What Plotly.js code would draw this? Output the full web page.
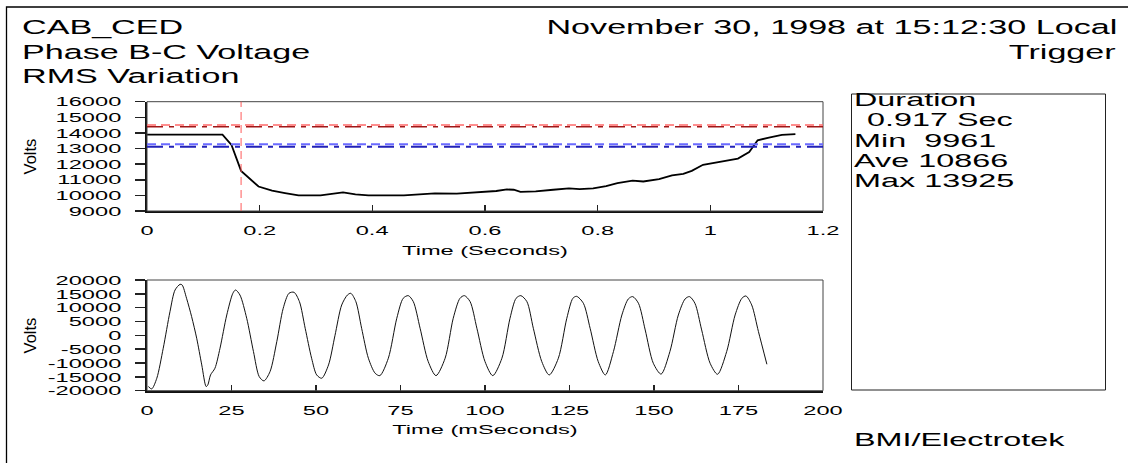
<!DOCTYPE html>
<html>
<head>
<meta charset="utf-8">
<script src="https://cdn.plot.ly/plotly-3.0.1.min.js"></script>
<style>
  html, body { margin: 0; padding: 0; background: #fff; }
  #chart { width: 1128px; height: 463px; }
</style>
</head>
<body>
<div id="chart"></div>
<script>
// ---------------- data ----------------
const rmsTime = [0, 0.134, 0.150, 0.167, 0.198, 0.222, 0.245, 0.269, 0.308, 0.331, 0.348, 0.370, 0.393,
  0.456, 0.479, 0.511, 0.550, 0.589, 0.620, 0.639, 0.651, 0.663, 0.690, 0.721, 0.749, 0.768, 0.792,
  0.815, 0.835, 0.862, 0.881, 0.909, 0.932, 0.952, 0.967, 0.987, 1.010, 1.034, 1.049, 1.069, 1.084,
  1.104, 1.127, 1.151];
const rmsVolts = [13890, 13890, 13230, 11570, 10570, 10300, 10150, 10000, 10000, 10100, 10190, 10060, 10000,
  10000, 10060, 10130, 10110, 10190, 10280, 10380, 10360, 10230, 10260, 10360, 10450, 10400, 10450,
  10600, 10790, 10940, 10890, 11040, 11280, 11380, 11570, 11960, 12110, 12260, 12360, 12770, 13530,
  13700, 13870, 13925];

const waveTime = [0.4, 1.4, 2.9, 4.8, 6.8, 8.3, 9.8, 10.4, 11.7, 13.2, 14.7, 16.2, 17.5, 18.0, 18.8, 20.1,
  21.6, 23.6, 25.4, 26.2, 27.5, 29.5, 31.5, 33.2, 34.6, 36.4, 38.4, 40.3, 42.0, 43.5, 45.1, 46.8, 48.7,
  50.2, 51.7, 53.7, 55.6, 57.6, 59.3, 60.3, 61.8, 63.5, 65.5, 67.5, 68.9, 71.4, 73.9, 75.8, 77.3, 78.8,
  80.8, 83.2, 85.5, 88.2, 90.6, 92.6, 93.9, 95.6, 97.6, 100.0, 102.3, 105.0, 107.4, 109.2, 110.6, 112.4,
  114.3, 116.8, 119.0, 121.7, 124.2, 126.0, 127.1, 129.1, 131.1, 133.5, 135.6, 138.0, 140.5, 142.4, 143.7,
  145.4, 147.4, 149.8, 152.1, 154.7, 157.2, 159.2, 160.5, 162.1, 164.1, 166.6, 168.8, 171.5, 174.0, 176.0,
  177.2, 178.9, 180.9, 183.4];
const waveVolts = [-18500, -19350, -15500, -4660, 8560, 16390, 18440, 18200, 13390, 6770, -1050, -10690,
  -18500, -17900, -14300, -11880, -4660, 7360, 15190, 16390, 14580, 6170, -5880, -14910, -16460, -13100,
  -2270, 9780, 15190, 15560, 12170, 2560, -8270, -14300, -15490, -10690, -140, 10970, 14580, 15190, 12170,
  2560, -8270, -13690, -14550, -8270, 6170, 13390, 14350, 12170, 2560, -9480, -14550, -8270, 6170, 13390,
  14350, 12170, 2560, -9480, -14550, -8270, 6170, 13390, 14350, 12170, 2560, -9480, -14300, -8270, 6170,
  13390, 14100, 11600, 2560, -9480, -14300, -5880, 7360, 13150, 14000, 11600, 1950, -10090, -14000, -5880,
  7360, 13150, 14000, 11600, 1950, -10090, -14060, -5880, 7360, 13390, 14230, 11000, 1350, -10450];

// threshold / reference levels on the RMS plot (Volts)
const upperLevels = [14500, 14400];
const lowerLevels = [13270, 13120];
const triggerTime = 0.167;

// tick values and labels
const rmsTickVals = [9000, 10000, 11000, 12000, 13000, 14000, 15000, 16000];
const rmsTickText = ["9000", "10000", "11000", "12000", "13000", "14000", "15000", "16000"];
const waveTickVals = [-20000, -15000, -10000, -5000, 0, 5000, 10000, 15000, 20000];
const waveTickText = ["-20000", "-15000", "-10000", "-5000", "0", "5000", "10000", "15000", "20000"];

const headerLeft = ["CAB_CED", "Phase B-C Voltage", "RMS Variation"];
const headerRight = ["November 30, 1998 at 15:12:30 Local", "Trigger"];
const statLines = ["Duration", "0.917 Sec", "Min\u00a0\u00a09961", "Ave 10866", "Max 13925"];
const footer = "BMI/Electrotek";

// ---------------- layout helpers ----------------
const W = 1128, H = 463;
const px = v => v / W;
const py = v => 1 - v / H;
const FONT = "Liberation Sans, Arial, sans-serif";
const STRETCH = 1.75;

const tickFont = {family: FONT, size: 13.5, color: "#000"};

const traces = [
  {x: rmsTime, y: rmsVolts, xaxis: "x", yaxis: "y", type: "scatter", mode: "lines",
   line: {color: "#000", width: 1.8}, hoverinfo: "skip"},
  {x: waveTime, y: waveVolts, xaxis: "x2", yaxis: "y2", type: "scatter", mode: "lines",
   line: {color: "#111", width: 1, shape: "spline", smoothing: 0.8}, hoverinfo: "skip"}
];

function ann(text, x, y, size, xanchor, extra) {
  return Object.assign({text: text, x: x, y: y, xref: "paper", yref: "paper", showarrow: false,
    xanchor: xanchor, align: xanchor === "right" ? "right" : (xanchor === "left" ? "left" : "center"),
    yanchor: "middle", font: {family: FONT, size: size, color: "#000"}, borderpad: 0}, extra || {});
}

const annotations = [];
headerLeft.forEach((t, i) => annotations.push(ann(t, px(21), py(27.5 + 24 * i), 19.5, "left")));
headerRight.forEach((t, i) => annotations.push(ann(t, px(1118), py(27.5 + 24 * i), 19.5, "right")));
statLines.forEach((t, i) => annotations.push(ann(t, px(i === 1 ? 866 : 853), py(100 + 20 * i), 18.5, "left")));
annotations.push(ann(footer, px(853), py(439), 18.5, "left"));
annotations.push(ann("Volts", px(30), py(156.4), 16.5, "center", {textangle: -90}));
annotations.push(ann("Volts", px(30), py(335.4), 16.5, "center", {textangle: -90}));

const shapes = [
  // outer frame
  {type: "rect", xref: "paper", yref: "paper", x0: px(6.5), x1: 1.02, y0: -0.02, y1: py(7),
   line: {color: "#000", width: 1.3}},
  // statistics box
  {type: "rect", xref: "paper", yref: "paper", x0: px(851.5), x1: px(1105.5), y0: py(390), y1: py(94),
   line: {color: "#222", width: 1}},
  // plot frames
  {type: "rect", xref: "x domain", yref: "y domain", x0: 0, x1: 1, y0: 0, y1: 1, line: {color: "#444", width: 1}},
  {type: "rect", xref: "x2 domain", yref: "y2 domain", x0: 0, x1: 1, y0: 0, y1: 1, line: {color: "#444", width: 1}},
  // trigger marker
  {type: "line", xref: "x", yref: "y domain", x0: triggerTime, x1: triggerTime, y0: 0, y1: 1,
   line: {color: "#ff5a5a", width: 1, dash: "8px,5px"}}
];
upperLevels.forEach((v, i) => shapes.push({type: "line", xref: "x domain", yref: "y", x0: 0, x1: 1, y0: v, y1: v,
  line: i === 0 ? {color: "#ff6a6a", width: 1.5, dash: "9px,5px"} : {color: "#a01818", width: 1.5, dash: "16px,6px,5px,6px"}}));
lowerLevels.forEach((v, i) => shapes.push({type: "line", xref: "x domain", yref: "y", x0: 0, x1: 1, y0: v, y1: v,
  line: i === 0 ? {color: "#6a6aff", width: 2, dash: "9px,5px"} : {color: "#2222b8", width: 2, dash: "16px,6px,5px,6px"}}));

const xCommon = {showgrid: false, zeroline: false, showline: true, linecolor: "#111", linewidth: 2,
  ticks: "inside", ticklen: 6, tickwidth: 1.5, tickcolor: "#222", tickfont: tickFont, ticklabelstandoff: 6,
  fixedrange: true};
const yCommon = {showgrid: false, zeroline: false, showline: true, linecolor: "#111", linewidth: 2,
  ticks: "outside", ticklen: 10, tickwidth: 1.5, tickcolor: "#222", tickfont: tickFont, ticklabelstandoff: 11,
  fixedrange: true, tickmode: "array"};
const yInside = {showgrid: false, zeroline: false, showline: false, ticks: "inside", ticklen: 10, tickwidth: 1.5,
  tickcolor: "#222", showticklabels: false, fixedrange: true, side: "left", tickmode: "array"};

const layout = {
  width: W, height: H, margin: {l: 0, r: 0, t: 0, b: 0}, paper_bgcolor: "#fff", plot_bgcolor: "#fff",
  showlegend: false,
  xaxis: Object.assign({}, xCommon, {domain: [px(147), px(823)], range: [0, 1.2], dtick: 0.2, tick0: 0, anchor: "y",
    title: {text: "Time (Seconds)", font: {family: FONT, size: 13.5, color: "#000"}, standoff: 8}}),
  yaxis: Object.assign({}, yCommon, {domain: [py(211), py(101.7)], range: [9000, 16000], anchor: "x",
    tickvals: rmsTickVals, ticktext: rmsTickText}),
  yaxis3: Object.assign({}, yInside, {overlaying: "y", anchor: "x", range: [9000, 16000], tickvals: rmsTickVals}),
  xaxis2: Object.assign({}, xCommon, {domain: [px(147), px(823)], range: [0, 200], dtick: 25, tick0: 0, anchor: "y2",
    title: {text: "Time (mSeconds)", font: {family: FONT, size: 13.5, color: "#000"}, standoff: 8}}),
  yaxis2: Object.assign({}, yCommon, {domain: [py(390.7), py(280)], range: [-20000, 20000], anchor: "x2",
    tickvals: waveTickVals, ticktext: waveTickText}),
  yaxis4: Object.assign({}, yInside, {overlaying: "y2", anchor: "x2", range: [-20000, 20000], tickvals: waveTickVals}),
  annotations: annotations,
  shapes: shapes
};

// The reference's horizontal lettering is widened; reproduce it by stretching each
// rendered (non-rotated) text element along x around its anchor point.
function stretchText(gd, s) {
  gd.querySelectorAll("text").forEach(function (t) {
    if (!t.textContent || !t.textContent.trim()) return;
    var m = t.getCTM();
    if (!m || Math.abs(m.b) > 1e-6 || Math.abs(m.c) > 1e-6) return;
    var tr = t.getAttribute("transform") || "";
    if (tr.indexOf("rotate") >= 0) return;
    var bb = t.getBBox();
    var anchor = t.getAttribute("text-anchor") || "start";
    var pxv = anchor === "end" ? bb.x + bb.width : (anchor === "middle" ? bb.x + bb.width / 2 : bb.x);
    t.setAttribute("transform", tr + " translate(" + pxv + ",0) scale(" + s + ",1) translate(" + (-pxv) + ",0)");
  });
}

Plotly.newPlot("chart", traces, layout, {displayModeBar: false, staticPlot: true}).then(function (gd) {
  stretchText(gd, STRETCH);
});
</script>
</body>
</html>
